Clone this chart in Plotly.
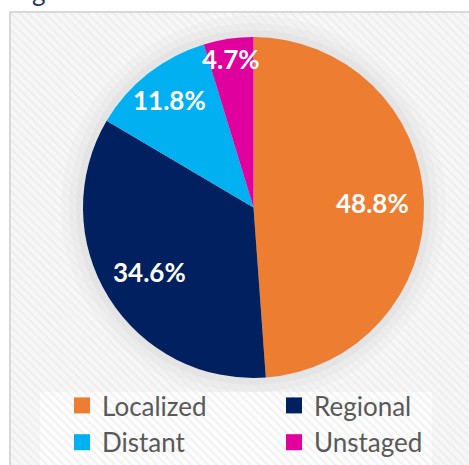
import math
import plotly.graph_objects as go

W, H = 469, 465

stages = ["Localized", "Regional", "Distant", "Unstaged"]
shares = [48.8, 34.6, 11.8, 4.7]
colors = ["#ED7D31", "#002060", "#00B0F0", "#E0009E"]

# label placement style (fraction of radius, per slice)
label_radius = [0.70, 0.72, 0.80, 0.88]


def px_x(v):
    return v / W


def px_y(v):
    return 1 - v / H


fig = go.Figure()

# striped chart-area background (decorative)
fig.add_trace(go.Bar(
    x=[0.5], y=[1], width=[1],
    marker=dict(color="rgba(0,0,0,0)", line=dict(width=0),
                pattern=dict(shape="\\", fgcolor="#e6e6e6", bgcolor="rgba(0,0,0,0)",
                             size=6, solidity=0.35)),
    hoverinfo="skip", showlegend=False, xaxis="x", yaxis="y",
))

cx, cy, r = 253.5, 207.5, 170.5
fig.add_trace(go.Pie(
    labels=stages, values=shares,
    marker=dict(colors=colors, line=dict(width=0)),
    sort=False, direction="clockwise", rotation=0,
    textinfo="none",
    domain=dict(x=[px_x(cx - r), px_x(cx + r)], y=[px_y(cy + r), px_y(cy - r)]),
    hoverinfo="label+percent", showlegend=False,
))

# legend entries (square swatches)
for name, col in zip(stages, colors):
    fig.add_trace(go.Scatter(
        x=[None], y=[None], mode="markers", name=name,
        marker=dict(symbol="square", size=16, color=col),
        xaxis="x", yaxis="y",
    ))

# data labels positioned from the slice angles
total = sum(shares)
annotations = []
cum = 0.0
for s, f in zip(shares, label_radius):
    theta = 2 * math.pi * (cum + s / 2) / total
    cum += s
    lx = cx + f * r * math.sin(theta)
    ly = cy - f * r * math.cos(theta)
    annotations.append(dict(
        text=f"{s:.1f}%", xref="paper", yref="paper", x=px_x(lx), y=px_y(ly),
        xanchor="center", yanchor="middle", showarrow=False,
        font=dict(family="Lato", size=26, color="white", weight="bold"),
    ))

# cut-off title remnant at the top edge
annotations.append(dict(text="g", xref="paper", yref="paper", x=px_x(39), y=px_y(9),
                        xanchor="center", yanchor="bottom", showarrow=False,
                        font=dict(family="Lato", size=26, color="#1F3864")))

shapes = [
    dict(type="rect", xref="paper", yref="paper", x0=px_x(10), x1=1.02,
         y0=-0.02, y1=px_y(12), fillcolor="#f7f7f7",
         line=dict(color="#d9d9d9", width=2), layer="below"),
]
for extra, op in [(22, 0.02), (14, 0.025), (7, 0.03)]:
    shapes.append(dict(type="circle", xref="paper", yref="paper",
                       x0=px_x(cx - r - extra), x1=px_x(cx + r + extra),
                       y0=px_y(cy + r + extra), y1=px_y(cy - r - extra),
                       fillcolor=f"rgba(0,0,0,{op})", line=dict(width=0), layer="below"))
shapes.append(dict(type="rect", xref="paper", yref="paper", x0=px_x(40), x1=px_x(432),
                   y0=-0.02, y1=px_y(392), fillcolor="rgba(255,255,255,0.75)",
                   line=dict(width=0), layer="below"))

fig.update_layout(
    width=W, height=H,
    margin=dict(l=0, r=0, t=0, b=0, autoexpand=False),
    paper_bgcolor="white", plot_bgcolor="rgba(0,0,0,0)",
    xaxis=dict(domain=[px_x(11), 1], range=[0, 1], visible=False, fixedrange=True),
    yaxis=dict(domain=[0, px_y(13)], range=[0, 1], visible=False, fixedrange=True),
    shapes=shapes,
    annotations=annotations,
    showlegend=True,
    legend=dict(orientation="h", xref="container", yref="container",
                x=px_x(62), xanchor="left", y=px_y(382), yanchor="top",
                entrywidth=167, entrywidthmode="pixels", bgcolor="rgba(0,0,0,0)",
                font=dict(family="Lato", size=26, color="#595959"),
                tracegroupgap=0, itemclick=False, itemdoubleclick=False),
    hovermode="closest",
)

fig.write_html("out.html", config={"displayModeBar": False},
               post_script="document.body.style.margin='0';")
